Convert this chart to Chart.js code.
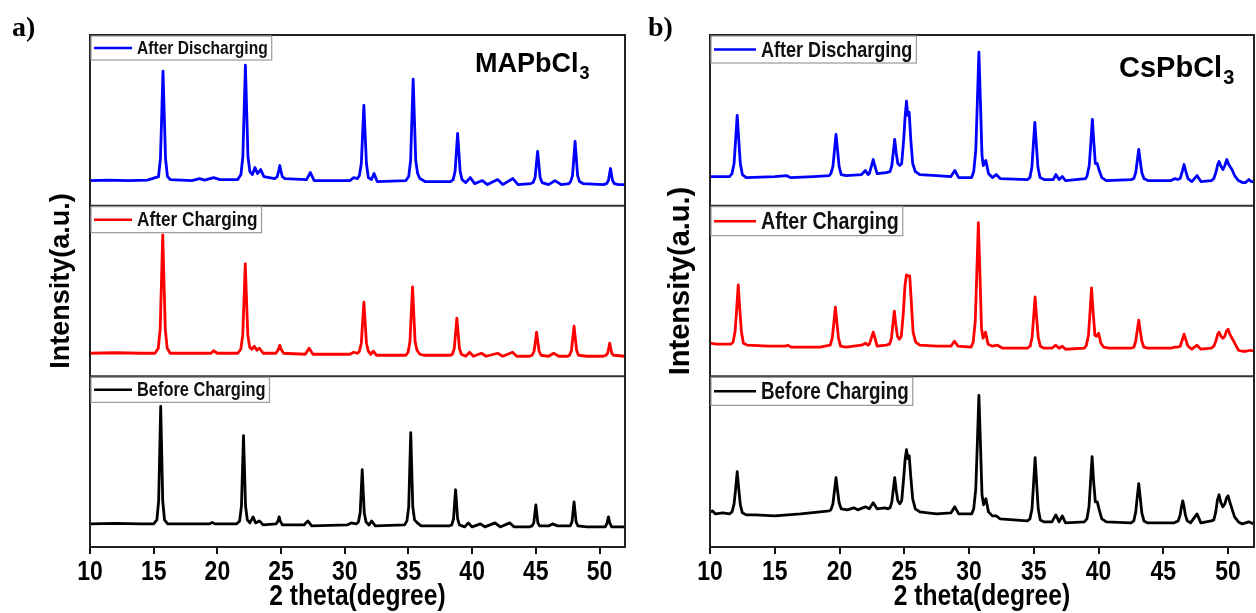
<!DOCTYPE html>
<html>
<head>
<meta charset="utf-8">
<script src="https://cdn.jsdelivr.net/npm/chart.js@4.4.1/dist/chart.umd.min.js"></script>
<style>
  html, body { margin: 0; padding: 0; background: #fff; }
  #wrap { position: relative; width: 1256px; height: 613px; overflow: hidden; }
  #boxA { position: absolute; left: 0; top: 0; width: 640px; height: 613px; }
  #boxB { position: absolute; left: 640px; top: 0; width: 616px; height: 613px; }
</style>
</head>
<body>
<div id="wrap">
  <div id="boxA"><canvas id="chartA" width="640" height="613"></canvas></div>
  <div id="boxB"><canvas id="chartB" width="616" height="613"></canvas></div>
</div>
<script>
const WIDE = "'Liberation Sans', Arial, sans-serif";
const SERIF = "'Liberation Serif', 'Times New Roman', serif";
const SQUEEZE = 0.82; // the figure's lettering is a narrow face

// 2 theta axis
const xMin = 10, xMax = 52, xStep = 5;
const seriesNames = ['Before Charging', 'After Charging', 'After Discharging'];
const seriesColors = ['#000000', '#ff0000', '#0000ff'];

// MAPbCl3 patterns  [2theta, intensity a.u.]
const mapbDischarged = [
  [10, 25], [11.5, 25.5], [13, 25], [14.5, 25.5], [15.38, 29], [15.53, 47], [15.63, 90], [15.73, 134], [15.83, 90], [15.93, 47],
  [16.08, 29], [16.3, 26], [18.0, 25], [18.6, 27], [19.0, 25.5], [19.7, 28], [20.2, 26], [21.6, 26], [21.85, 31], [22.0, 49],
  [22.1, 94], [22.2, 140], [22.3, 94], [22.4, 49], [22.55, 34], [22.75, 31], [22.95, 38], [23.15, 32], [23.4, 36], [23.65, 29],
  [24.5, 27], [24.7, 29], [24.82, 35], [24.9, 40], [24.98, 35], [25.1, 29], [25.3, 27], [27.0, 26], [27.3, 33], [27.6, 25],
  [30.4, 25], [30.7, 28], [31.0, 27], [31.15, 30], [31.3, 42], [31.4, 71], [31.5, 100], [31.6, 71], [31.7, 42], [31.85, 28],
  [32.1, 26], [32.3, 32], [32.55, 24], [34.8, 25], [35.02, 29], [35.17, 45], [35.27, 86], [35.37, 126], [35.47, 86], [35.57, 45],
  [35.72, 32], [35.9, 27], [36.3, 24], [38.3, 24], [38.51, 26], [38.66, 34], [38.76, 53], [38.86, 72], [38.96, 53], [39.06, 34],
  [39.21, 26], [39.5, 23], [39.85, 28], [40.2, 22], [40.8, 25], [41.2, 21], [42.0, 26], [42.4, 21], [43.2, 27], [43.6, 21],
  [44.6, 22], [44.79, 23], [44.94, 28], [45.04, 41], [45.14, 54], [45.24, 41], [45.34, 28], [45.49, 23], [46.0, 21], [46.5, 25],
  [47.0, 21], [47.6, 22], [47.73, 24], [47.88, 30], [47.98, 47], [48.08, 64], [48.18, 47], [48.28, 30], [48.43, 24], [48.7, 22],
  [50.3, 21], [50.56, 22], [50.7, 25], [50.78, 31], [50.86, 37], [50.94, 31], [51.02, 25], [51.16, 22], [51.5, 21], [52, 21]
];
const mapbCharged = [
  [10, 23], [12, 23.5], [14, 23], [15.1, 23], [15.36, 28], [15.51, 47], [15.61, 94], [15.71, 141], [15.81, 94], [15.91, 47],
  [16.06, 28], [16.3, 23], [19.5, 23], [19.7, 25.5], [20.0, 23], [21.6, 23], [21.84, 27], [21.99, 41], [22.09, 76], [22.19, 112],
  [22.29, 76], [22.39, 41], [22.54, 29], [22.7, 27], [22.9, 30], [23.1, 26], [23.3, 28], [23.6, 23], [24.6, 23], [24.8, 27],
  [24.9, 31], [25.0, 27], [25.2, 23], [26.9, 22], [27.2, 28], [27.5, 22], [30.4, 22], [30.7, 24], [31.0, 23], [31.15, 25],
  [31.3, 33], [31.4, 54], [31.5, 74], [31.6, 54], [31.7, 33], [31.85, 25], [32.05, 22], [32.24, 25], [32.5, 21], [34.8, 21],
  [34.97, 24], [35.12, 35], [35.22, 62], [35.32, 89], [35.42, 62], [35.52, 35], [35.67, 26], [35.9, 22], [36.2, 21], [38.3, 21],
  [38.45, 22], [38.6, 28], [38.7, 43], [38.8, 58], [38.9, 43], [39.0, 28], [39.15, 22], [39.5, 20], [39.8, 24], [40.1, 20],
  [40.73, 23], [41.1, 20], [42.0, 23], [42.4, 20], [43.17, 24], [43.5, 20], [44.5, 20], [44.71, 21], [44.86, 25], [44.96, 34],
  [45.06, 44], [45.16, 34], [45.26, 25], [45.41, 21], [46.0, 20], [46.4, 23], [46.8, 20], [47.5, 20], [47.65, 21], [47.8, 26],
  [47.9, 38], [48.0, 50], [48.1, 38], [48.2, 26], [48.35, 21], [49.0, 20], [50.3, 20], [50.5, 21], [50.64, 23], [50.72, 28],
  [50.8, 33], [50.88, 28], [50.96, 23], [51.1, 21], [52, 20]
];
const mapbPristine = [
  [10, 23], [12, 23.5], [14, 23], [15.0, 23], [15.25, 27], [15.39, 46], [15.47, 93], [15.55, 140], [15.63, 93], [15.71, 46],
  [15.85, 27], [16.1, 23], [19.4, 23], [19.6, 24.5], [19.8, 23], [21.5, 23], [21.75, 26], [21.89, 41], [21.97, 76], [22.05, 111],
  [22.13, 76], [22.21, 41], [22.35, 27], [22.55, 24], [22.8, 30], [23.0, 24], [23.3, 26], [23.6, 22], [24.6, 23], [24.77, 26],
  [24.85, 30], [24.93, 26], [25.1, 22], [26.8, 22], [27.1, 26], [27.4, 21], [30.2, 22], [30.5, 24], [30.9, 23], [31.07, 25],
  [31.21, 34], [31.29, 55], [31.37, 77], [31.45, 55], [31.53, 34], [31.67, 25], [31.9, 22], [32.1, 26], [32.4, 21], [34.7, 22],
  [34.88, 26], [35.02, 40], [35.1, 77], [35.18, 114], [35.26, 77], [35.34, 40], [35.48, 27], [35.7, 24], [36.0, 21], [38.2, 21],
  [38.4, 22], [38.54, 28], [38.62, 43], [38.7, 57], [38.78, 43], [38.86, 28], [39.0, 22], [39.4, 20], [39.7, 24], [40.0, 20],
  [40.65, 23], [41.0, 20], [41.8, 24], [42.2, 20], [42.95, 24], [43.3, 20], [44.5, 20], [44.7, 21], [44.84, 24], [44.92, 33],
  [45.0, 42], [45.08, 33], [45.16, 24], [45.3, 21], [46.0, 21], [46.3, 23], [46.7, 21], [47.5, 21], [47.7, 21], [47.84, 25],
  [47.92, 35], [48.0, 45], [48.08, 35], [48.16, 25], [48.3, 21], [49.0, 20], [50.3, 20], [50.45, 20], [50.6, 24], [50.7, 30],
  [50.8, 24], [50.95, 20], [52, 20]
];

// CsPbCl3 patterns  [2theta, intensity a.u.]
const cspbDischarged = [
  [10, 29], [11.0, 29], [11.5, 29], [11.7, 32], [11.86, 42], [11.98, 66], [12.1, 90], [12.22, 66], [12.34, 42], [12.5, 31],
  [12.8, 28], [15.0, 29], [15.9, 30], [16.2, 28], [18.0, 29], [19.2, 30], [19.33, 32], [19.49, 39], [19.61, 55], [19.73, 71],
  [19.85, 55], [19.97, 39], [20.13, 31], [20.5, 30], [21.7, 31], [22.0, 35], [22.2, 31], [22.3, 32], [22.48, 40], [22.6, 46],
  [22.72, 40], [22.9, 32], [23.6, 33], [23.9, 34], [24.04, 40], [24.15, 53], [24.26, 66], [24.37, 53], [24.5, 42], [24.65, 40],
  [24.8, 42], [24.95, 65], [25.07, 90], [25.17, 104], [25.27, 90], [25.38, 93], [25.5, 66], [25.65, 42], [25.85, 34], [26.2, 31],
  [27.5, 30], [28.6, 29], [28.9, 35], [29.2, 28], [30.2, 28], [30.36, 34], [30.52, 55], [30.64, 103], [30.76, 153], [30.88, 103],
  [31.0, 50], [31.1, 40], [31.3, 45], [31.5, 32], [31.8, 28], [32.1, 31], [32.4, 27], [34.5, 26], [34.7, 28], [34.85, 38],
  [34.96, 60], [35.08, 83], [35.2, 60], [35.32, 38], [35.48, 28], [35.8, 26], [36.5, 26], [36.7, 31], [36.95, 26], [37.2, 29],
  [37.45, 25], [39.0, 27], [39.12, 30], [39.28, 40], [39.4, 62], [39.52, 86], [39.64, 62], [39.75, 42], [39.9, 42], [40.05, 35],
  [40.25, 28], [40.6, 25], [42.5, 26], [42.72, 27], [42.87, 33], [42.98, 44], [43.1, 56], [43.22, 44], [43.34, 33], [43.5, 27],
  [43.8, 25], [45.6, 25], [45.9, 27], [46.1, 26], [46.3, 27], [46.48, 35], [46.6, 41], [46.72, 35], [46.9, 27], [47.2, 24],
  [47.6, 30], [47.9, 24], [48.7, 25], [48.9, 27], [49.08, 34], [49.2, 41], [49.3, 44], [49.42, 40], [49.6, 36], [49.75, 40],
  [49.9, 46], [50.05, 41], [50.3, 36], [50.5, 30], [50.8, 25], [51.1, 23], [51.35, 23], [51.6, 26], [51.8, 24], [52, 24]
];
const cspbCharged = [
  [10, 33], [10.5, 32], [11.0, 32], [11.6, 32], [11.78, 34], [11.94, 45], [12.06, 67], [12.18, 91], [12.3, 67], [12.42, 45],
  [12.58, 33], [12.9, 31], [14.5, 30], [15.8, 30], [16.0, 31], [16.3, 29], [18.5, 29], [19.28, 31], [19.44, 38], [19.56, 53],
  [19.68, 69], [19.8, 53], [19.92, 38], [20.08, 30], [20.5, 29], [21.7, 31], [22.0, 33], [22.2, 31], [22.3, 32], [22.48, 39],
  [22.6, 44], [22.72, 39], [22.9, 30], [23.6, 31], [23.87, 32], [24.01, 38], [24.12, 52], [24.23, 65], [24.34, 52], [24.47, 40],
  [24.62, 37], [24.77, 40], [24.92, 62], [25.05, 90], [25.17, 101], [25.3, 100], [25.42, 100], [25.54, 75], [25.68, 44], [25.88, 34],
  [26.2, 31], [27.5, 30], [28.6, 30], [28.87, 35], [29.15, 30], [30.15, 29], [30.32, 34], [30.48, 55], [30.6, 103], [30.72, 153],
  [30.84, 103], [30.96, 48], [31.08, 38], [31.27, 44], [31.47, 32], [31.8, 30], [32.2, 31], [32.6, 28], [34.5, 28], [34.72, 30],
  [34.87, 39], [34.98, 58], [35.1, 79], [35.22, 58], [35.34, 39], [35.5, 30], [35.8, 28], [36.4, 28], [36.7, 31], [36.95, 28],
  [37.2, 30], [37.45, 27], [38.9, 28], [39.06, 31], [39.22, 41], [39.34, 64], [39.46, 88], [39.58, 64], [39.72, 41], [39.85, 40],
  [40.0, 43], [40.18, 33], [40.4, 29], [40.8, 28], [42.5, 28], [42.72, 29], [42.87, 35], [42.98, 45], [43.1, 56], [43.22, 45],
  [43.34, 35], [43.5, 29], [43.8, 28], [45.6, 28], [45.9, 29], [46.1, 29], [46.3, 30], [46.48, 37], [46.6, 42], [46.72, 37],
  [46.9, 30], [47.2, 27], [47.6, 31], [47.9, 27], [48.7, 28], [48.9, 30], [49.08, 36], [49.2, 42], [49.3, 44], [49.45, 40],
  [49.6, 38], [49.75, 40], [49.87, 45], [50.0, 47], [50.13, 42], [50.35, 37], [50.55, 32], [50.8, 26], [51.1, 25], [51.4, 25],
  [51.7, 26], [52, 25]
];
const cspbPristine = [
  [10, 35], [10.2, 36], [10.4, 33], [11.0, 34], [11.5, 33], [11.7, 35], [11.86, 43], [11.98, 58], [12.1, 75], [12.22, 58],
  [12.34, 42], [12.5, 34], [12.8, 32], [13.5, 32], [15.0, 31], [17.0, 33], [18.5, 35], [19.2, 36], [19.33, 37], [19.49, 43],
  [19.61, 56], [19.73, 69], [19.85, 56], [19.97, 44], [20.13, 38], [20.6, 37], [21.1, 39], [21.4, 37], [22.0, 40], [22.3, 38],
  [22.6, 44], [22.9, 38], [23.5, 39], [23.75, 38], [23.9, 39], [24.04, 45], [24.15, 57], [24.26, 69], [24.37, 57], [24.5, 46],
  [24.65, 43], [24.8, 46], [24.95, 68], [25.07, 88], [25.17, 97], [25.27, 88], [25.38, 91], [25.5, 70], [25.65, 48], [25.85, 38],
  [26.2, 35], [26.8, 34], [27.5, 33], [28.6, 34], [28.9, 40], [29.2, 33], [30.2, 33], [30.36, 38], [30.52, 58], [30.64, 103],
  [30.76, 151], [30.88, 103], [31.0, 52], [31.12, 42], [31.3, 48], [31.5, 35], [31.8, 31], [32.1, 31], [32.4, 28], [34.5, 26],
  [34.7, 28], [34.86, 38], [34.98, 63], [35.1, 89], [35.22, 63], [35.34, 38], [35.5, 27], [35.8, 25], [36.4, 25], [36.7, 32],
  [36.95, 25], [37.2, 31], [37.45, 24], [38.9, 25], [39.1, 28], [39.26, 40], [39.38, 65], [39.5, 90], [39.62, 65], [39.75, 45],
  [39.9, 45], [40.05, 37], [40.25, 28], [40.6, 25], [42.5, 24], [42.72, 26], [42.87, 35], [42.98, 49], [43.1, 63], [43.22, 49],
  [43.34, 34], [43.5, 26], [43.8, 24], [44.6, 24], [45.8, 24], [46.15, 26], [46.3, 32], [46.4, 40], [46.5, 46], [46.6, 40],
  [46.7, 32], [46.85, 26], [47.1, 24], [47.6, 33], [47.9, 24], [48.7, 26], [48.9, 27], [49.05, 35], [49.18, 47], [49.3, 52],
  [49.45, 44], [49.6, 40], [49.75, 43], [49.88, 49], [50.0, 51], [50.13, 45], [50.3, 38], [50.5, 30], [50.8, 25], [51.1, 23],
  [51.6, 25], [52, 23]
];

// draw text squeezed horizontally (narrow face is not installed)
function narrowText(ctx, text, x, y, align) {
  ctx.save();
  ctx.translate(x, y);
  ctx.scale(SQUEEZE, 1);
  ctx.textAlign = align;
  ctx.fillText(text, 0, 0);
  ctx.restore();
}

function framePlugin(p) {
  return {
    id: 'frame',
    afterDraw(chart) {
      const { ctx, chartArea: ca, scales } = chart;
      ctx.save();
      // dividers between the stacked panels
      ctx.strokeStyle = '#333';
      ctx.lineWidth = 2;
      [scales.yBefore.top, scales.yCharge.top].forEach(y => {
        ctx.beginPath();
        ctx.moveTo(ca.left, y);
        ctx.lineTo(ca.right, y);
        ctx.stroke();
      });
      ctx.strokeStyle = '#222';
      ctx.strokeRect(ca.left, ca.top, ca.right - ca.left, ca.bottom - ca.top);

      // tick labels
      ctx.fillStyle = '#000';
      ctx.textBaseline = 'middle';
      ctx.font = 'bold 28px ' + WIDE;
      scales.x.ticks.forEach(t => {
        narrowText(ctx, String(t.value), scales.x.getPixelForValue(t.value), ca.bottom + 25, 'center');
      });

      // legend box inside each panel
      chart.data.datasets.forEach((ds, i) => {
        const sc = scales[ds.yAxisID];
        const fs = p.legendSize[i];
        const h = fs + 5;
        const x0 = ca.left + 1, y0 = sc.top + 1;
        ctx.font = 'bold ' + fs + 'px ' + WIDE;
        const w = p.textGap + ctx.measureText(ds.label).width * SQUEEZE + 4;
        ctx.fillStyle = '#fff';
        ctx.fillRect(x0, y0, w, h);
        ctx.strokeStyle = '#999';
        ctx.lineWidth = 1.2;
        ctx.strokeRect(x0, y0, w, h);
        ctx.strokeStyle = ds.borderColor;
        ctx.lineWidth = 2.5;
        ctx.beginPath();
        ctx.moveTo(x0 + 3, y0 + h / 2);
        ctx.lineTo(x0 + p.lineLen, y0 + h / 2);
        ctx.stroke();
        ctx.fillStyle = '#111';
        ctx.textBaseline = 'middle';
        narrowText(ctx, ds.label, x0 + p.textGap, y0 + h / 2 + 1, 'left');
      });

      // compound name with subscript
      ctx.fillStyle = '#000';
      ctx.textBaseline = 'alphabetic';
      ctx.textAlign = 'left';
      ctx.font = 'bold ' + p.nameSize + 'px ' + WIDE;
      ctx.fillText(p.name, p.nameX, p.nameY);
      const nw = ctx.measureText(p.name).width;
      ctx.font = 'bold ' + Math.round(p.nameSize * 0.68) + 'px ' + WIDE;
      ctx.fillText('3', p.nameX + nw + 1, p.nameY + 7);

      // panel letter
      ctx.font = 'bold 28px ' + SERIF;
      ctx.fillText(p.letter, p.letterX, 36);

      // axis titles
      ctx.textBaseline = 'middle';
      ctx.font = 'bold 30px ' + WIDE;
      narrowText(ctx, '2 theta(degree)', (ca.left + ca.right) / 2, 597, 'center');
      ctx.translate(p.yTitleX, 281);
      ctx.rotate(-Math.PI / 2);
      ctx.textAlign = 'center';
      ctx.font = 'bold ' + p.yTitleSize + 'px ' + WIDE;
      ctx.fillText('Intensity(a.u.)', 0, 0);
      ctx.restore();
    }
  };
}

function makePanel(id, sets, p) {
  const yAxis = () => ({ type: 'linear', display: false, min: 0, max: 170, stack: 'xrd', stackWeight: 1, position: 'left' });
  return new Chart(document.getElementById(id), {
    type: 'line',
    data: {
      datasets: [
        { label: seriesNames[0], data: sets[0], yAxisID: 'yBefore', borderColor: seriesColors[0] },
        { label: seriesNames[1], data: sets[1], yAxisID: 'yCharge', borderColor: seriesColors[1] },
        { label: seriesNames[2], data: sets[2], yAxisID: 'yDischarge', borderColor: seriesColors[2] }
      ].map(d => Object.assign(d, { borderWidth: 2.8, pointRadius: 0, tension: 0, fill: false, borderJoinStyle: 'round' }))
    },
    options: {
      responsive: false,
      animation: false,
      layout: { padding: { left: p.left, right: p.right, top: 35, bottom: 27 } },
      plugins: { legend: { display: false }, tooltip: { enabled: false } },
      scales: {
        x: {
          type: 'linear', min: xMin, max: xMax,
          ticks: {
            stepSize: xStep, includeBounds: false, color: 'rgba(0,0,0,0)', padding: 2,
            font: { family: WIDE, size: 28, weight: 'bold', lineHeight: 1 }
          },
          grid: { drawOnChartArea: false, drawTicks: true, tickLength: 7, color: '#111', lineWidth: 2 },
          border: { display: true, color: '#222', width: 2 }
        },
        yBefore: yAxis(),
        yCharge: yAxis(),
        yDischarge: yAxis()
      }
    },
    plugins: [framePlugin(p)]
  });
}

makePanel('chartA', [mapbPristine, mapbCharged, mapbDischarged], {
  left: 90, right: 15, legendSize: [20, 21, 19], lineLen: 41, textGap: 46,
  name: 'MAPbCl', nameSize: 27, nameX: 475, nameY: 72,
  letter: 'a)', letterX: 12, yTitleX: 62, yTitleSize: 27
});
makePanel('chartB', [cspbPristine, cspbCharged, cspbDischarged], {
  left: 70, right: 2, legendSize: [23, 24, 22], lineLen: 45, textGap: 50,
  name: 'CsPbCl', nameSize: 29, nameX: 479, nameY: 77,
  letter: 'b)', letterX: 8, yTitleX: 41, yTitleSize: 29
});
</script>
</body>
</html>
